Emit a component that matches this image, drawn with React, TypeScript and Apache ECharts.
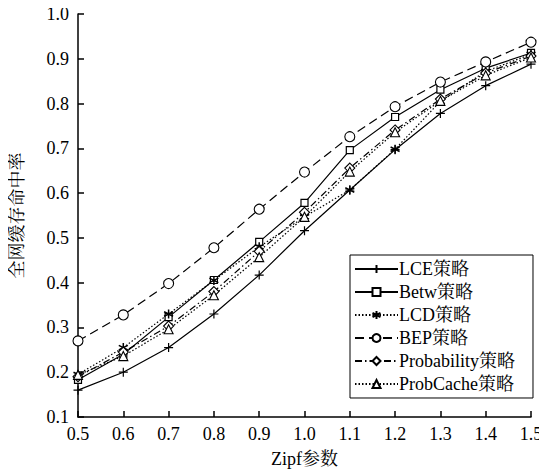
import React, { useEffect, useRef } from "react";
import * as echarts from "echarts";

const zipf = [0.5, 0.6, 0.7, 0.8, 0.9, 1.0, 1.1, 1.2, 1.3, 1.4, 1.5];
const lce = [0.16, 0.2, 0.255, 0.33, 0.417, 0.516, 0.607, 0.697, 0.778, 0.84, 0.888];
const betw = [0.183, 0.24, 0.323, 0.406, 0.491, 0.578, 0.696, 0.77, 0.831, 0.879, 0.913];
const lcd = [0.195, 0.255, 0.33, 0.405, 0.48, 0.547, 0.607, 0.698, 0.805, 0.872, 0.91];
const bep = [0.27, 0.328, 0.398, 0.478, 0.564, 0.647, 0.726, 0.793, 0.848, 0.893, 0.937];
const probability = [0.19, 0.245, 0.303, 0.38, 0.47, 0.557, 0.656, 0.741, 0.81, 0.868, 0.906];
const probCache = [0.194, 0.236, 0.296, 0.372, 0.457, 0.547, 0.648, 0.736, 0.806, 0.863, 0.903];
const seriesNames = ["LCE策略", "Betw策略", "LCD策略", "BEP策略", "Probability策略", "ProbCache策略"];

const FONT = "'Times New Roman', 'Liberation Serif', 'Noto Serif CJK SC', 'Noto Sans CJK SC', serif";
const PLUS = "path://M0,-1L0,1M-1,0L1,0";
const STAR = "path://M0,-1L0,1M-0.87,-0.5L0.87,0.5M-0.87,0.5L0.87,-0.5";

export default function App() {
  const ref = useRef<HTMLDivElement>(null);
  useEffect(() => {
    const chart = echarts.init(ref.current!, null, { renderer: "svg" });
    const pairs = (vals: number[]) => zipf.map((x, i) => [x, vals[i]]);
    const mk = (name: string, vals: number[], symbol: string, size: number, lineType: any, fill: string, bw = 1) => ({
      name,
      type: "line",
      data: pairs(vals),
      symbol,
      symbolSize: size,
      showSymbol: true,
      lineStyle: { color: "#000", width: 1.2, type: lineType },
      itemStyle: { color: fill, borderColor: "#000", borderWidth: bw },
      emphasis: { disabled: true },
    });
    chart.setOption({
      animation: false,
      backgroundColor: "#fff",
      textStyle: { fontFamily: FONT, color: "#000" },
      grid: { left: 75, right: 16, top: 14, bottom: 53 },
      legend: {
        orient: "vertical",
        left: 350,
        top: 255,
        padding: [5, 18, 5, 4],
        itemGap: 5,
        itemWidth: 43,
        itemHeight: 10,
        borderColor: "#000",
        borderWidth: 1,
        backgroundColor: "#fff",
        textStyle: { fontFamily: FONT, fontSize: 18, color: "#000", padding: [0, 0, 0, -4] },
        data: seriesNames,
      },
      xAxis: {
        type: "value",
        min: 0.5,
        max: 1.5,
        interval: 0.1,
        name: "Zipf参数",
        nameLocation: "middle",
        nameGap: 33,
        nameTextStyle: { fontFamily: FONT, fontSize: 18, color: "#000" },
        axisLine: { lineStyle: { color: "#000", width: 1.5 } },
        axisTick: { inside: true, length: 6, lineStyle: { color: "#000", width: 1.5 } },
        axisLabel: { fontFamily: FONT, fontSize: 18, color: "#000", margin: 8, formatter: (v: number) => v.toFixed(1) },
        splitLine: { show: false },
      },
      yAxis: {
        type: "value",
        min: 0.1,
        max: 1.0,
        interval: 0.1,
        name: "全网缓存命中率",
        nameLocation: "middle",
        nameGap: 52,
        nameTextStyle: { fontFamily: FONT, fontSize: 18, color: "#000" },
        axisLine: { show: true, lineStyle: { color: "#000", width: 1.5 } },
        axisTick: { show: true, inside: true, length: 6, lineStyle: { color: "#000", width: 1.5 } },
        axisLabel: { fontFamily: FONT, fontSize: 18, color: "#000", margin: 9, formatter: (v: number) => v.toFixed(1) },
        splitLine: { show: false },
      },
      series: [
        mk(seriesNames[0], lce, PLUS, 9, "solid", "none", 1.2),
        mk(seriesNames[1], betw, "rect", 7, "solid", "#fff", 1.2),
        mk(seriesNames[2], lcd, STAR, 9, [1.5, 2], "none", 1.5),
        mk(seriesNames[3], bep, "circle", 10, [9, 5], "#fff", 1.1),
        mk(seriesNames[4], probability, "diamond", 10, [7, 3, 1.5, 3], "#fff", 1.1),
        mk(seriesNames[5], probCache, "triangle", 9, [1.5, 2], "#fff", 1.1),
      ],
    });
    return () => chart.dispose();
  }, []);
  return <div ref={ref} style={{ width: 547, height: 473, marginLeft: -8, marginTop: -8 }} />;
}
